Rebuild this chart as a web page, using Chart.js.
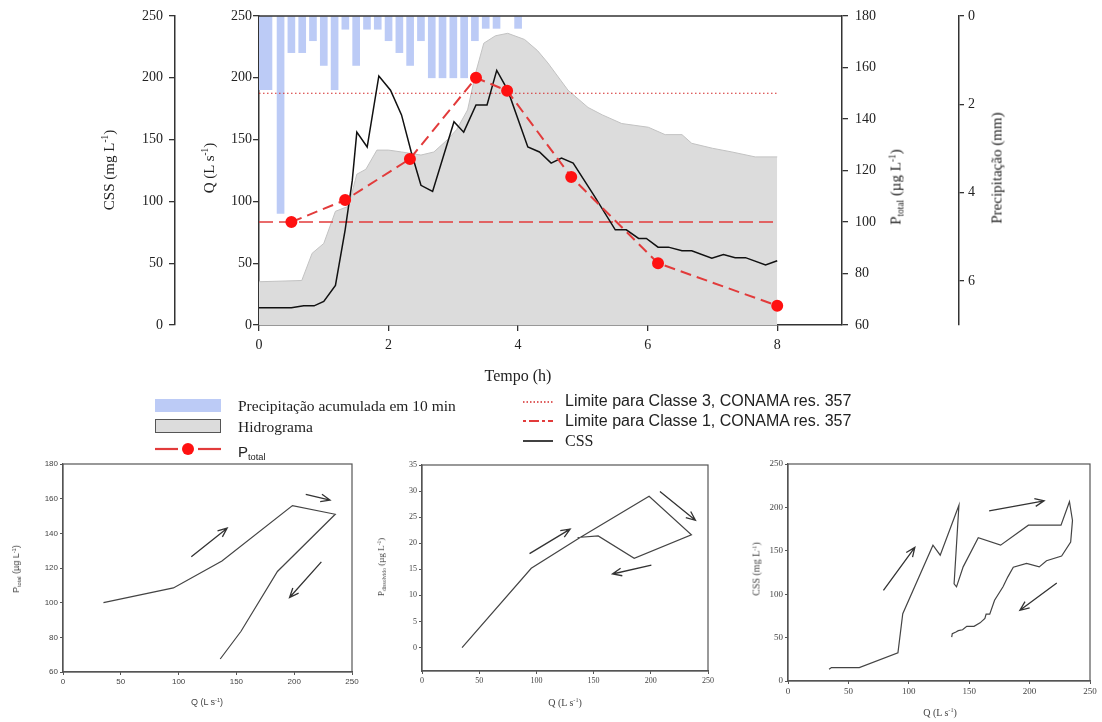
<!DOCTYPE html>
<html lang="pt-BR">
<head>
<meta charset="utf-8">
<title>Hidrograma, CSS e P total</title>
<script src="https://cdn.jsdelivr.net/npm/chart.js@4.4.1/dist/chart.umd.min.js"></script>
<style>
  html, body { margin: 0; padding: 0; background: #fff; }
  #pagina { position: relative; width: 1102px; height: 722px; overflow: hidden;
            font-family: "Liberation Serif", serif; color: #222; }
  canvas { position: absolute; }
  .rot { position: absolute; transform: translate(-50%, -50%) rotate(-90deg); white-space: nowrap; }
  .txt { position: absolute; transform: translate(-50%, -50%); white-space: nowrap; }
  .leg { position: absolute; transform: translateY(-50%); white-space: nowrap; }
  .sans { font-family: "Liberation Sans", Arial, sans-serif; }
  sup { font-size: 0.62em; vertical-align: 0.55em; line-height: 0; }
  sub { font-size: 0.62em; vertical-align: -0.35em; line-height: 0; }
  svg { position: absolute; }
</style>
</head>
<body>
<div id="pagina">
  <canvas id="grafPrincipal" width="1102" height="395" style="left:0;top:0"></canvas>
  <canvas id="painel1" width="370" height="267" style="left:0;top:455px"></canvas>
  <canvas id="painel2" width="360" height="267" style="left:370px;top:455px"></canvas>
  <canvas id="painel3" width="372" height="267" style="left:730px;top:455px"></canvas>

  <!-- titulos dos eixos (grafico principal) -->
  <div class="rot" style="left:109px;top:170px;font-size:15px">CSS (mg L<sup>-1</sup>)</div>
  <div class="rot" style="left:209px;top:168px;font-size:15px">Q (L s<sup>-1</sup>)</div>
  <div class="rot" style="left:896px;top:187px;font-size:15px">P<sub>total</sub> (µg L<sup>-1</sup>)</div>
  <div class="rot" style="left:997px;top:168px;font-size:15px">Precipitação (mm)</div>
  <div class="txt" style="left:518px;top:376px;font-size:16px">Tempo (h)</div>

  <!-- legenda -->
  <div style="position:absolute;left:155px;top:399px;width:66px;height:13px;background:#bccbf6"></div>
  <div class="leg" style="left:238px;top:406px;font-size:15.5px">Precipitação acumulada em 10 min</div>
  <div style="position:absolute;left:155px;top:419px;width:64px;height:12px;background:#dcdcdc;border:1px solid #555"></div>
  <div class="leg" style="left:238px;top:427px;font-size:15.5px">Hidrograma</div>
  <svg style="left:153px;top:441px" width="72" height="16">
    <line x1="2" y1="8" x2="25" y2="8" stroke="#e23b3b" stroke-width="2.2"/>
    <line x1="45" y1="8" x2="68" y2="8" stroke="#e23b3b" stroke-width="2.2"/>
    <circle cx="35" cy="8" r="6" fill="#ff1111"/>
  </svg>
  <div class="leg sans" style="left:238px;top:451px;font-size:15px">P<sub>total</sub></div>

  <svg style="left:521px;top:396px" width="36" height="12">
    <line x1="2" y1="6" x2="32" y2="6" stroke="#d42a2a" stroke-width="1.3" stroke-dasharray="1.5 2"/>
  </svg>
  <div class="leg sans" style="left:565px;top:401px;font-size:16px">Limite para Classe 3, CONAMA res. 357</div>
  <svg style="left:521px;top:415px" width="36" height="12">
    <line x1="2" y1="6" x2="32" y2="6" stroke="#e23b3b" stroke-width="2" stroke-dasharray="3 3 10 3"/>
  </svg>
  <div class="leg sans" style="left:565px;top:421px;font-size:16px">Limite para Classe 1, CONAMA res. 357</div>
  <svg style="left:521px;top:435px" width="36" height="12">
    <line x1="2" y1="6" x2="32" y2="6" stroke="#111" stroke-width="1.6"/>
  </svg>
  <div class="leg" style="left:565px;top:441px;font-size:16px">CSS</div>

  <!-- titulos dos paineis de histerese -->
  <div class="rot sans" style="left:16px;top:569px;font-size:9px;color:#444">P<sub>total</sub> (µg L<sup>-1</sup>)</div>
  <div class="txt sans" style="left:207px;top:702px;font-size:9px;color:#444">Q (L s<sup>-1</sup>)</div>
  <div class="rot" style="left:381px;top:567px;font-size:9px;color:#444">P<sub>dissolvido</sub> (µg L<sup>-1</sup>)</div>
  <div class="txt" style="left:565px;top:702px;font-size:10px;color:#444">Q (L s<sup>-1</sup>)</div>
  <div class="rot" style="left:756px;top:569px;font-size:10px;color:#444">CSS (mg L<sup>-1</sup>)</div>
  <div class="txt" style="left:940px;top:712px;font-size:10px;color:#444">Q (L s<sup>-1</sup>)</div>
</div>

<script>
// ===== dados =====
// hidrograma (Q, L/s)
const hidroTempo = [0, 0.66, 0.82, 1.0, 1.18, 1.38, 1.51, 1.65, 1.82, 2.0, 2.2, 2.5, 2.7, 2.91, 3.05, 3.22, 3.35, 3.47, 3.65, 3.84, 4.1, 4.3, 4.46, 4.77, 5.08, 5.3, 5.6, 6.01, 6.27, 6.53, 6.68, 7.0, 7.3, 7.66, 8.0];
const hidroQ     = [35, 36, 58, 66, 92, 96, 122, 126, 141.5, 141.5, 140, 137.5, 140, 150, 158, 174, 205, 228, 234, 236, 231, 222, 212, 190, 176, 170, 163, 160, 154, 154, 147, 143, 140, 136, 136];

// CSS (mg/L)
const cssTempo = [0, 0.5, 0.69, 0.85, 1.0, 1.18, 1.33, 1.44, 1.51, 1.67, 1.85, 2.03, 2.2, 2.35, 2.5, 2.68, 3.01, 3.16, 3.35, 3.52, 3.67, 3.84, 4.15, 4.33, 4.51, 4.67, 4.85, 5.18, 5.5, 5.67, 5.86, 5.98, 6.16, 6.32, 6.53, 6.68, 6.99, 7.17, 7.35, 7.51, 7.82, 8.0];
const cssValor = [14, 14, 15.5, 15.5, 19, 32, 77, 117, 156, 144, 201.5, 190, 170, 140, 113, 108, 164.5, 156, 178, 178, 206, 190, 144, 140, 131, 135, 131, 104, 77, 77, 70, 70, 63, 63, 60, 60, 54, 57, 54.5, 54.5, 48.5, 52];

// P total (ug/L) nas amostras
const amostraTempo = [0.5, 1.33, 2.33, 3.35, 3.83, 4.82, 6.16, 8.0];
const pTotal       = [100, 108.5, 124.5, 156, 151, 117.5, 84, 67.5];

// limites CONAMA 357
const limiteTempo  = [0, 8];
const limiteClasse3 = [150, 150];
const limiteClasse1 = [100, 100];

// precipitacao acumulada em 10 min (mm)
const chuvaTempoInicial = [0.1];
const chuvaInicial      = [1.67];
const chuvaTempo = [0.333, 0.5, 0.667, 0.833, 1.0, 1.167, 1.333, 1.5, 1.667, 1.833, 2.0, 2.167, 2.333, 2.5, 2.667, 2.833, 3.0, 3.167, 3.333, 3.5, 3.667, 4.0];
const chuvaMM    = [4.47, 0.83, 0.83, 0.56, 1.12, 1.67, 0.30, 1.12, 0.30, 0.30, 0.56, 0.83, 1.12, 0.56, 1.40, 1.40, 1.40, 1.40, 0.56, 0.28, 0.28, 0.28];

// ticks do grafico principal
const ticksTempo = [0, 2, 4, 6, 8];
const ticksCss   = [0, 50, 100, 150, 200, 250];
const ticksQ     = [0, 50, 100, 150, 200, 250];
const ticksP     = [60, 80, 100, 120, 140, 160, 180];
const ticksChuva = [0, 2, 4, 6];

// histerese: Q nas amostras
const qAmostra   = [35, 95.5, 137.5, 198.5, 235.5, 185.5, 154, 136];
const pTotalHist = [100, 108.5, 124, 156, 151, 118, 83.5, 67.5];
const pDissolvido = [0, 15.2, 21, 29, 21.6, 17.1, 21.4, 21.1];

// histerese CSS x Q
const qCss   = [34, 36, 59, 91, 95, 120, 126, 141.5, 137.5, 139.5, 145, 157.5, 176, 199, 226, 233, 235.5, 234, 226.5, 214, 208, 197.5, 186.5, 182, 178, 171, 167, 164, 163, 159, 154, 148, 144.5, 141, 139, 136, 135.5];
const cssHist = [13.5, 15.5, 15.5, 32.5, 77.5, 156.5, 145, 202.5, 112, 108.5, 131.5, 165, 156.5, 179.5, 179.5, 206.5, 185, 160, 144, 138.5, 131.5, 135.5, 131, 120, 108.5, 93, 77, 77, 72, 67, 63, 63, 59, 58, 56.5, 54.5, 50.5];

// setas (x1, y1, x2, y2 em unidades dos eixos)
const setasPainel1 = [[111, 126.5, 142, 143], [210, 162.5, 231, 159.2], [223.5, 123.5, 196, 103]];
const setasPainel2 = [[94, 18, 129.5, 22.7], [208, 29.9, 239, 24.4], [200.5, 15.8, 166.5, 14.1]];
const setasPainel3 = [[79, 104.5, 105, 154], [166.5, 196, 212, 207.5], [222.5, 113, 192, 81.5]];

// ticks dos paineis
const ticksQHist   = [0, 50, 100, 150, 200, 250];
const ticksPTotal  = [60, 80, 100, 120, 140, 160, 180];
const ticksPDis    = [0, 5, 10, 15, 20, 25, 30, 35];
const ticksCssHist = [0, 50, 100, 150, 200, 250];

// ===== utilitarios =====
const pares = (xs, ys) => xs.map((x, i) => ({ x: x, y: ys[i] }));
const fixarTicks = (lista) => (scale) => { scale.ticks = lista.map(v => ({ value: v })); };

Chart.defaults.font.family = '"Liberation Serif", serif';
Chart.defaults.color = '#222';

// linha do topo da area do grafico
const pluginTopo = {
    id: 'topo',
    afterDraw(chart) {
        const { ctx, chartArea: a } = chart;
        ctx.save();
        ctx.strokeStyle = '#333';
        ctx.lineWidth = 1.5;
        ctx.beginPath();
        ctx.moveTo(a.left, a.top);
        ctx.lineTo(a.right, a.top);
        ctx.stroke();
        ctx.restore();
    }
};

// moldura completa dos paineis
const pluginMoldura = {
    id: 'moldura',
    afterDraw(chart, args, opts) {
        const { ctx, chartArea: a } = chart;
        ctx.save();
        ctx.strokeStyle = opts.cor || '#555';
        ctx.lineWidth = 1.2;
        ctx.strokeRect(a.left, a.top, a.right - a.left, a.bottom - a.top);
        ctx.restore();
    }
};

// setas com ponta aberta
const pluginSetas = {
    id: 'setas',
    afterDatasetsDraw(chart, args, opts) {
        const { ctx, scales: { x, y } } = chart;
        const tam = opts.ponta || 9;
        ctx.save();
        ctx.strokeStyle = '#333';
        ctx.lineWidth = 1.3;
        (opts.lista || []).forEach(s => {
            const x1 = x.getPixelForValue(s[0]), y1 = y.getPixelForValue(s[1]);
            const x2 = x.getPixelForValue(s[2]), y2 = y.getPixelForValue(s[3]);
            const ang = Math.atan2(y2 - y1, x2 - x1);
            ctx.beginPath();
            ctx.moveTo(x1, y1);
            ctx.lineTo(x2, y2);
            ctx.moveTo(x2 - tam * Math.cos(ang - 0.4), y2 - tam * Math.sin(ang - 0.4));
            ctx.lineTo(x2, y2);
            ctx.lineTo(x2 - tam * Math.cos(ang + 0.4), y2 - tam * Math.sin(ang + 0.4));
            ctx.stroke();
        });
        ctx.restore();
    }
};

// ===== grafico principal =====
const fonteEixo = { family: '"Liberation Serif", serif', size: 14 };
const gradeEixo = { drawOnChartArea: false, tickLength: 6, color: '#333', lineWidth: 1.3, offset: false };
const bordaEixo = { color: '#333', width: 1.5 };

new Chart(document.getElementById('grafPrincipal'), {
    data: {
        datasets: [
            {
                type: 'line', label: 'Ptotal', data: pares(amostraTempo, pTotal), yAxisID: 'yP',
                borderColor: '#e23b3b', borderDash: [11, 6], borderWidth: 2,
                pointRadius: 5, pointBackgroundColor: '#ff1111', pointBorderColor: '#ff1111',
                order: 0
            },
            {
                type: 'line', label: 'CSS', data: pares(cssTempo, cssValor), yAxisID: 'yCss',
                borderColor: '#111', borderWidth: 1.5, pointRadius: 0, order: 1
            },
            {
                type: 'line', label: 'Classe 3', data: pares(limiteTempo, limiteClasse3), yAxisID: 'yP',
                borderColor: '#d42a2a', borderDash: [1.5, 2.5], borderWidth: 1.2, pointRadius: 0, order: 2
            },
            {
                type: 'line', label: 'Classe 1', data: pares(limiteTempo, limiteClasse1), yAxisID: 'yP',
                borderColor: '#e23b3b', borderDash: [14, 6], borderWidth: 1.6, pointRadius: 0, order: 2
            },
            {
                type: 'bar', label: 'Precipitação', data: pares(chuvaTempo, chuvaMM), yAxisID: 'yChuva',
                backgroundColor: '#bccbf6', barThickness: 7, grouped: false, order: 3
            },
            {
                type: 'bar', label: 'Precipitação inicial', data: pares(chuvaTempoInicial, chuvaInicial), yAxisID: 'yChuva',
                backgroundColor: '#bccbf6', barThickness: 13, grouped: false, order: 3
            },
            {
                type: 'line', label: 'Hidrograma', data: pares(hidroTempo, hidroQ), yAxisID: 'yQ',
                fill: 'origin', backgroundColor: '#dcdcdc', borderColor: '#c2c2c2', borderWidth: 1,
                pointRadius: 0, order: 4
            }
        ]
    },
    options: {
        responsive: false,
        animation: false,
        layout: { padding: { left: 95, right: 103, top: 16, bottom: 0 } },
        plugins: { legend: { display: false }, tooltip: { enabled: false } },
        scales: {
            x: {
                type: 'linear', position: 'bottom', min: 0, max: 9, offset: false,
                afterBuildTicks: fixarTicks(ticksTempo),
                ticks: { font: fonteEixo, color: '#222', padding: 6, maxRotation: 0 },
                grid: gradeEixo, border: bordaEixo,
                afterFit: (s) => { s.height = 70; }
            },
            yCss: {
                type: 'linear', position: 'left', weight: 2, min: 0, max: 250,
                afterBuildTicks: fixarTicks(ticksCss),
                ticks: { font: fonteEixo, color: '#222', padding: 6 },
                grid: gradeEixo, border: bordaEixo,
                afterFit: (s) => { s.width = 80; }
            },
            yQ: {
                type: 'linear', position: 'left', weight: 1, min: 0, max: 250,
                afterBuildTicks: fixarTicks(ticksQ),
                ticks: { font: fonteEixo, color: '#222', padding: 1 },
                grid: gradeEixo, border: bordaEixo,
                afterFit: (s) => { s.width = 84; }
            },
            yP: {
                type: 'linear', position: 'right', weight: 1, min: 60, max: 180,
                afterBuildTicks: fixarTicks(ticksP),
                ticks: { font: fonteEixo, color: '#222', padding: 7 },
                grid: gradeEixo, border: bordaEixo,
                afterFit: (s) => { s.width = 117; }
            },
            yChuva: {
                type: 'linear', position: 'right', weight: 2, min: 0, max: 7, reverse: true,
                afterBuildTicks: fixarTicks(ticksChuva),
                ticks: { font: fonteEixo, color: '#222', padding: 4 },
                grid: { drawOnChartArea: false, tickLength: 5, color: '#333', lineWidth: 1.3 },
                border: bordaEixo,
                afterFit: (s) => { s.width = 40; }
            }
        }
    },
    plugins: [pluginTopo]
});

// ===== paineis de histerese =====
function criarPainel(id, xs, ys, setas, cfg) {
    const fonte = { family: cfg.familia, size: cfg.tamanho };
    return new Chart(document.getElementById(id), {
        type: 'line',
        data: {
            datasets: [{
                data: pares(xs, ys), borderColor: '#444', borderWidth: 1.2,
                pointRadius: 0, tension: 0
            }]
        },
        options: {
            responsive: false,
            animation: false,
            layout: { padding: { left: 0, right: cfg.direita, top: cfg.topo, bottom: 0 } },
            plugins: {
                legend: { display: false }, tooltip: { enabled: false },
                setas: { lista: setas, ponta: cfg.ponta }, moldura: { cor: '#555' }
            },
            scales: {
                x: {
                    type: 'linear', min: cfg.xMin, max: cfg.xMax,
                    afterBuildTicks: fixarTicks(cfg.xTicks),
                    ticks: { font: fonte, color: '#444', padding: 2, maxRotation: 0 },
                    grid: { drawOnChartArea: false, tickLength: 3, color: '#555' },
                    border: { color: '#555', width: 1.2 },
                    afterFit: (s) => { s.height = cfg.alturaX; }
                },
                y: {
                    type: 'linear', min: cfg.yMin, max: cfg.yMax,
                    afterBuildTicks: fixarTicks(cfg.yTicks),
                    ticks: { font: fonte, color: '#444', padding: 2 },
                    grid: { drawOnChartArea: false, tickLength: 3, color: '#555' },
                    border: { color: '#555', width: 1.2 },
                    afterFit: (s) => { s.width = cfg.larguraY; }
                }
            }
        },
        plugins: [pluginSetas, pluginMoldura]
    });
}

criarPainel('painel1', qAmostra, pTotalHist, setasPainel1, {
    familia: '"Liberation Sans", Arial, sans-serif', tamanho: 8, ponta: 10,
    xMin: 0, xMax: 250, xTicks: ticksQHist, yMin: 60, yMax: 180, yTicks: ticksPTotal,
    larguraY: 63, alturaX: 50, topo: 9, direita: 18
});

criarPainel('painel2', qAmostra, pDissolvido, setasPainel2, {
    familia: '"Liberation Serif", serif', tamanho: 8, ponta: 10,
    xMin: 0, xMax: 250, xTicks: ticksQHist, yMin: -4.5, yMax: 35, yTicks: ticksPDis,
    larguraY: 52, alturaX: 51, topo: 10, direita: 22
});

criarPainel('painel3', qCss, cssHist, setasPainel3, {
    familia: '"Liberation Serif", serif', tamanho: 9, ponta: 10,
    xMin: 0, xMax: 250, xTicks: ticksQHist, yMin: 0, yMax: 250, yTicks: ticksCssHist,
    larguraY: 58, alturaX: 41, topo: 9, direita: 12
});
</script>
</body>
</html>
